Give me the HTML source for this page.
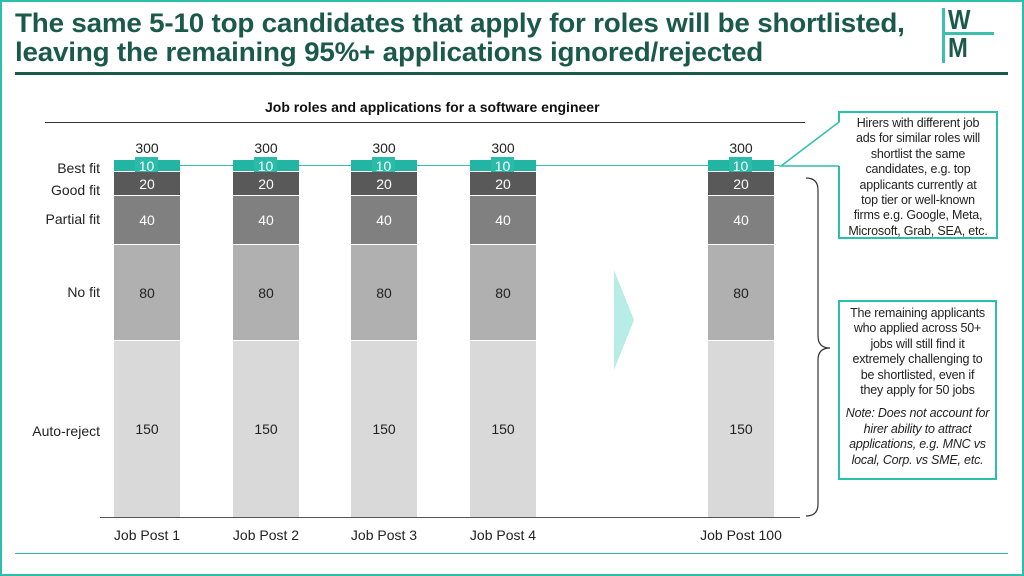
<!DOCTYPE html>
<html><head><meta charset="utf-8"><style>
*{margin:0;padding:0;box-sizing:border-box}
body{width:1024px;height:576px;position:relative;background:#fff;font-family:"Liberation Sans",sans-serif;overflow:hidden}
.a{position:absolute}
.frame{left:0;top:0;width:1024px;height:576px;border:2px solid #2bbfae}
.title{left:15px;top:9px;font-size:27px;font-weight:bold;color:#1b5a4b;line-height:29px;letter-spacing:-0.2px;white-space:nowrap;transform:scaleX(1.03);transform-origin:left}
.seg{position:absolute;left:0;width:66px;text-align:center;font-size:14px;display:flex;align-items:center;justify-content:center}
.cat{font-size:14px;color:#222;text-align:right;width:90px;left:10px}
.box{border:2px solid #2bbfae;background:#fff;font-size:12.5px;color:#222;text-align:center;line-height:15.4px;padding:3px 0;white-space:nowrap;letter-spacing:-0.2px}
</style></head><body>
<div class="a frame"></div>
<div class="a title">The same 5-10 top candidates that apply for roles will be shortlisted,<br>leaving the remaining 95%+ applications ignored/rejected</div>
<div class="a" style="left:15px;top:72px;width:993px;height:3px;background:#1b5a4b"></div>
<!-- logo -->
<div class="a" style="left:942px;top:8px;width:3px;height:55px;background:#3cc0ad"></div>
<div class="a" style="left:948px;top:6px;font-size:28px;font-weight:bold;color:#1b5a4b;line-height:28px;transform:scaleX(0.85);transform-origin:left">W</div>
<div class="a" style="left:948px;top:34px;font-size:28px;font-weight:bold;color:#1b5a4b;line-height:28px;transform:scaleX(0.85);transform-origin:left">M</div>
<div class="a" style="left:942px;top:32px;width:52px;height:3px;background:#3cc0ad"></div>

<div class="a" style="left:265px;top:99px;font-size:14px;font-weight:bold;color:#111">Job roles and applications for a software engineer</div>
<div class="a" style="left:45px;top:122px;width:760px;height:1px;background:#333"></div>

<div class="a cat" style="top:160px">Best fit</div>
<div class="a cat" style="top:182px">Good fit</div>
<div class="a cat" style="top:211px">Partial fit</div>
<div class="a cat" style="top:284px">No fit</div>
<div class="a cat" style="top:423px">Auto-reject</div>

<div class="a" style="left:180px;top:165px;width:600px;height:1px;background:#3cc0ad"></div>
<div class="a" style="left:100px;top:517px;width:700px;height:1px;background:#555"></div>

<div class="a" style="left:114px;top:138px;width:66px;height:380px">
<div class="seg" style="top:0;height:20px;color:#222">300</div>
<div class="seg" style="top:22px;height:11px;background:#22b5a3"></div>
<div class="seg" style="top:19px;left:21px;width:23px;height:17px;background:#2bbca9;color:#fff">10</div>
<div class="seg" style="top:34px;height:23px;background:#595959;color:#fff">20</div>
<div class="seg" style="top:58px;height:48px;background:#808080;color:#fff">40</div>
<div class="seg" style="top:107px;height:95px;background:#b0b0b0;color:#222">80</div>
<div class="seg" style="top:203px;height:176px;background:#d9d9d9;color:#222">150</div>
</div>
<div class="a" style="left:233px;top:138px;width:66px;height:380px">
<div class="seg" style="top:0;height:20px;color:#222">300</div>
<div class="seg" style="top:22px;height:11px;background:#22b5a3"></div>
<div class="seg" style="top:19px;left:21px;width:23px;height:17px;background:#2bbca9;color:#fff">10</div>
<div class="seg" style="top:34px;height:23px;background:#595959;color:#fff">20</div>
<div class="seg" style="top:58px;height:48px;background:#808080;color:#fff">40</div>
<div class="seg" style="top:107px;height:95px;background:#b0b0b0;color:#222">80</div>
<div class="seg" style="top:203px;height:176px;background:#d9d9d9;color:#222">150</div>
</div>
<div class="a" style="left:351px;top:138px;width:66px;height:380px">
<div class="seg" style="top:0;height:20px;color:#222">300</div>
<div class="seg" style="top:22px;height:11px;background:#22b5a3"></div>
<div class="seg" style="top:19px;left:21px;width:23px;height:17px;background:#2bbca9;color:#fff">10</div>
<div class="seg" style="top:34px;height:23px;background:#595959;color:#fff">20</div>
<div class="seg" style="top:58px;height:48px;background:#808080;color:#fff">40</div>
<div class="seg" style="top:107px;height:95px;background:#b0b0b0;color:#222">80</div>
<div class="seg" style="top:203px;height:176px;background:#d9d9d9;color:#222">150</div>
</div>
<div class="a" style="left:470px;top:138px;width:66px;height:380px">
<div class="seg" style="top:0;height:20px;color:#222">300</div>
<div class="seg" style="top:22px;height:11px;background:#22b5a3"></div>
<div class="seg" style="top:19px;left:21px;width:23px;height:17px;background:#2bbca9;color:#fff">10</div>
<div class="seg" style="top:34px;height:23px;background:#595959;color:#fff">20</div>
<div class="seg" style="top:58px;height:48px;background:#808080;color:#fff">40</div>
<div class="seg" style="top:107px;height:95px;background:#b0b0b0;color:#222">80</div>
<div class="seg" style="top:203px;height:176px;background:#d9d9d9;color:#222">150</div>
</div>
<div class="a" style="left:708px;top:138px;width:66px;height:380px">
<div class="seg" style="top:0;height:20px;color:#222">300</div>
<div class="seg" style="top:22px;height:11px;background:#22b5a3"></div>
<div class="seg" style="top:19px;left:21px;width:23px;height:17px;background:#2bbca9;color:#fff">10</div>
<div class="seg" style="top:34px;height:23px;background:#595959;color:#fff">20</div>
<div class="seg" style="top:58px;height:48px;background:#808080;color:#fff">40</div>
<div class="seg" style="top:107px;height:95px;background:#b0b0b0;color:#222">80</div>
<div class="seg" style="top:203px;height:176px;background:#d9d9d9;color:#222">150</div>
</div>

<div class="a" style="left:97px;top:527px;width:100px;text-align:center;font-size:14px;color:#222">Job Post 1</div>
<div class="a" style="left:216px;top:527px;width:100px;text-align:center;font-size:14px;color:#222">Job Post 2</div>
<div class="a" style="left:334px;top:527px;width:100px;text-align:center;font-size:14px;color:#222">Job Post 3</div>
<div class="a" style="left:453px;top:527px;width:100px;text-align:center;font-size:14px;color:#222">Job Post 4</div>
<div class="a" style="left:691px;top:527px;width:100px;text-align:center;font-size:14px;color:#222">Job Post 100</div>

<div class="a box" style="left:838px;top:111px;width:160px;height:128px">Hirers with different job<br>ads for similar roles will<br>shortlist the same<br>candidates, e.g. top<br>applicants currently at<br>top tier or well-known<br>firms e.g. Google, Meta,<br>Microsoft, Grab, SEA, etc.</div>
<div class="a box" style="left:838px;top:300px;width:159px;height:180px;padding-top:4px">The remaining applicants<br>who applied across 50+<br>jobs will still find it<br>extremely challenging to<br>be shortlisted, even if<br>they apply for 50 jobs<div style="height:8px"></div><i>Note: Does not account for<br>hirer ability to attract<br>applications, e.g. MNC vs<br>local, Corp. vs SME, etc.</i></div>

<svg class="a" style="left:0;top:0" width="1024" height="576">
<polygon points="614,270 634,320 614,370" fill="#b8ece6"/>
<polygon points="840,122 781,166 840,166" fill="#fff"/>
<polyline points="839,122 781,166 839,166" fill="none" stroke="#2bbfae" stroke-width="1.5"/>
<path d="M806,178 Q818,178 818,190 L818,336 Q818,348 830,348 Q818,348 818,360 L818,504 Q818,516 806,516" fill="none" stroke="#333" stroke-width="1.2"/>
</svg>

<div class="a" style="left:15px;top:553px;width:993px;height:1px;background:#2bbfae"></div>
</body></html>
